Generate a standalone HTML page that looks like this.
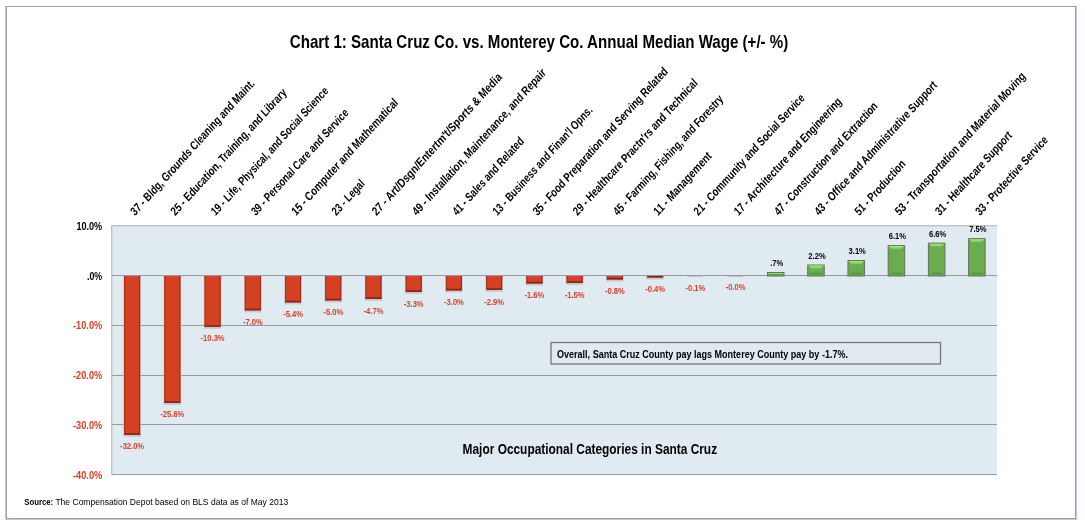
<!DOCTYPE html><html><head><meta charset="utf-8"><style>html,body{margin:0;padding:0;background:#fff;width:1085px;height:525px;overflow:hidden}svg{display:block;will-change:transform}text{font-family:"Liberation Sans",sans-serif}</style></head><body>
<svg width="1085" height="525" viewBox="0 0 1085 525">
<defs><linearGradient id="gtop" x1="0" y1="0" x2="0" y2="1"><stop offset="0" stop-color="#9cf27c"/><stop offset="1" stop-color="#78c25a"/></linearGradient></defs>
<rect x="0" y="0" width="1085" height="525" fill="#fff"/>
<rect x="6.5" y="6.5" width="1069" height="512" fill="none" stroke="#a0a0a0" stroke-width="1"/>
<rect x="5" y="6" width="1" height="513" fill="#b9c8f2"/>
<rect x="1076" y="6" width="1" height="514" fill="#b9c8f2"/>
<rect x="5" y="519" width="1072" height="1" fill="#b9c8f2"/>
<text x="289.8" y="48" font-size="18.5" font-weight="bold" fill="#000" textLength="498.5" lengthAdjust="spacingAndGlyphs">Chart 1: Santa Cruz Co. vs. Monterey Co. Annual Median Wage (+/- %)</text>
<rect x="111" y="225" width="886" height="249" fill="#e0ebf1"/>
<rect x="111" y="225" width="886" height="1" fill="#bfc4c7"/>
<rect x="112" y="226" width="885" height="1" fill="#d2dbe0"/>
<rect x="111" y="225" width="1" height="250" fill="#bfc4c7"/>
<rect x="112" y="226" width="1" height="248" fill="#d2dbe0"/>
<rect x="112" y="275" width="885" height="1" fill="#959b9f"/>
<rect x="112" y="325" width="885" height="1" fill="#959b9f"/>
<rect x="112" y="375" width="885" height="1" fill="#959b9f"/>
<rect x="112" y="424" width="885" height="1" fill="#959b9f"/>
<rect x="112" y="474" width="885" height="1" fill="#959b9f"/>
<text x="76.4" y="230.3" font-size="11.3" font-weight="bold" fill="#000" textLength="25.8" lengthAdjust="spacingAndGlyphs">10.0%</text>
<text x="87.0" y="280.4" font-size="11.3" font-weight="bold" fill="#000" textLength="15.2" lengthAdjust="spacingAndGlyphs">.0%</text>
<text x="73.0" y="329.4" font-size="11.3" font-weight="bold" fill="#d8402a" textLength="29.2" lengthAdjust="spacingAndGlyphs">-10.0%</text>
<text x="73.0" y="379.4" font-size="11.3" font-weight="bold" fill="#d8402a" textLength="29.2" lengthAdjust="spacingAndGlyphs">-20.0%</text>
<text x="73.0" y="428.9" font-size="11.3" font-weight="bold" fill="#d8402a" textLength="29.2" lengthAdjust="spacingAndGlyphs">-30.0%</text>
<text x="73.0" y="478.9" font-size="11.3" font-weight="bold" fill="#d8402a" textLength="29.2" lengthAdjust="spacingAndGlyphs">-40.0%</text>
<rect x="123.31" y="276.00" width="17.6" height="160.86" fill="#c3cbd0"/>
<rect x="124.11" y="276.00" width="16.0" height="158.86" fill="#d44022"/>
<rect x="124.11" y="276.00" width="16.0" height="1.8" fill="#da3f34"/>
<rect x="124.11" y="433.26" width="16.0" height="1.6" fill="#83241a"/>
<rect x="124.11" y="276.00" width="1" height="158.86" fill="#b02c14"/>
<rect x="139.11" y="276.00" width="1" height="158.86" fill="#a22410"/>
<text x="120.12" y="448.86" font-size="8.7" font-weight="bold" fill="#d8402a" textLength="24.0" lengthAdjust="spacingAndGlyphs">-32.0%</text>
<text transform="translate(135.11,216.3) scale(0.91,1) rotate(-45)" font-size="12.5" font-weight="bold" fill="#000" textLength="186.8" lengthAdjust="spacingAndGlyphs">37 - Bldg, Grounds Cleaning and Maint.</text>
<rect x="163.54" y="276.00" width="17.6" height="128.99" fill="#c3cbd0"/>
<rect x="164.34" y="276.00" width="16.0" height="126.99" fill="#d44022"/>
<rect x="164.34" y="276.00" width="16.0" height="1.8" fill="#da3f34"/>
<rect x="164.34" y="401.39" width="16.0" height="1.6" fill="#83241a"/>
<rect x="164.34" y="276.00" width="1" height="126.99" fill="#b02c14"/>
<rect x="179.34" y="276.00" width="1" height="126.99" fill="#a22410"/>
<text x="160.35" y="417.13" font-size="8.7" font-weight="bold" fill="#d8402a" textLength="24.0" lengthAdjust="spacingAndGlyphs">-25.6%</text>
<text transform="translate(175.34,216.3) scale(0.91,1) rotate(-45)" font-size="12.5" font-weight="bold" fill="#000" textLength="174.1" lengthAdjust="spacingAndGlyphs">25 - Education, Training, and Library</text>
<rect x="203.77" y="276.00" width="17.6" height="52.79" fill="#c3cbd0"/>
<rect x="204.57" y="276.00" width="16.0" height="50.79" fill="#d44022"/>
<rect x="204.57" y="276.00" width="16.0" height="1.8" fill="#da3f34"/>
<rect x="204.57" y="325.19" width="16.0" height="1.6" fill="#83241a"/>
<rect x="204.57" y="276.00" width="1" height="50.79" fill="#b02c14"/>
<rect x="219.57" y="276.00" width="1" height="50.79" fill="#a22410"/>
<text x="200.58" y="341.27" font-size="8.7" font-weight="bold" fill="#d8402a" textLength="24.0" lengthAdjust="spacingAndGlyphs">-10.3%</text>
<text transform="translate(215.57,216.3) scale(0.91,1) rotate(-45)" font-size="12.5" font-weight="bold" fill="#000" textLength="176.2" lengthAdjust="spacingAndGlyphs">19 - Life, Physical, and Social Science</text>
<rect x="244.00" y="276.00" width="17.6" height="36.36" fill="#c3cbd0"/>
<rect x="244.80" y="276.00" width="16.0" height="34.36" fill="#d44022"/>
<rect x="244.80" y="276.00" width="16.0" height="1.8" fill="#da3f34"/>
<rect x="244.80" y="308.76" width="16.0" height="1.6" fill="#83241a"/>
<rect x="244.80" y="276.00" width="1" height="34.36" fill="#b02c14"/>
<rect x="259.80" y="276.00" width="1" height="34.36" fill="#a22410"/>
<text x="242.91" y="324.91" font-size="8.7" font-weight="bold" fill="#d8402a" textLength="19.8" lengthAdjust="spacingAndGlyphs">-7.0%</text>
<text transform="translate(255.80,216.3) scale(0.91,1) rotate(-45)" font-size="12.5" font-weight="bold" fill="#000" textLength="145.2" lengthAdjust="spacingAndGlyphs">39 - Personal Care and Service</text>
<rect x="284.22" y="276.00" width="17.6" height="28.39" fill="#c3cbd0"/>
<rect x="285.02" y="276.00" width="16.0" height="26.39" fill="#d44022"/>
<rect x="285.02" y="276.00" width="16.0" height="1.8" fill="#da3f34"/>
<rect x="285.02" y="300.79" width="16.0" height="1.6" fill="#83241a"/>
<rect x="285.02" y="276.00" width="1" height="26.39" fill="#b02c14"/>
<rect x="300.02" y="276.00" width="1" height="26.39" fill="#a22410"/>
<text x="283.14" y="316.97" font-size="8.7" font-weight="bold" fill="#d8402a" textLength="19.8" lengthAdjust="spacingAndGlyphs">-5.4%</text>
<text transform="translate(296.02,216.3) scale(0.91,1) rotate(-45)" font-size="12.5" font-weight="bold" fill="#000" textLength="159.6" lengthAdjust="spacingAndGlyphs">15 - Computer and Mathematical</text>
<rect x="324.45" y="276.00" width="17.6" height="26.40" fill="#c3cbd0"/>
<rect x="325.25" y="276.00" width="16.0" height="24.40" fill="#d44022"/>
<rect x="325.25" y="276.00" width="16.0" height="1.8" fill="#da3f34"/>
<rect x="325.25" y="298.80" width="16.0" height="1.6" fill="#83241a"/>
<rect x="325.25" y="276.00" width="1" height="24.40" fill="#b02c14"/>
<rect x="340.25" y="276.00" width="1" height="24.40" fill="#a22410"/>
<text x="323.36" y="314.99" font-size="8.7" font-weight="bold" fill="#d8402a" textLength="19.8" lengthAdjust="spacingAndGlyphs">-5.0%</text>
<text transform="translate(336.25,216.3) scale(0.91,1) rotate(-45)" font-size="12.5" font-weight="bold" fill="#000" textLength="45.1" lengthAdjust="spacingAndGlyphs">23 - Legal</text>
<rect x="364.68" y="276.00" width="17.6" height="24.91" fill="#c3cbd0"/>
<rect x="365.48" y="276.00" width="16.0" height="22.91" fill="#d44022"/>
<rect x="365.48" y="276.00" width="16.0" height="1.8" fill="#da3f34"/>
<rect x="365.48" y="297.31" width="16.0" height="1.6" fill="#83241a"/>
<rect x="365.48" y="276.00" width="1" height="22.91" fill="#b02c14"/>
<rect x="380.48" y="276.00" width="1" height="22.91" fill="#a22410"/>
<text x="363.59" y="313.50" font-size="8.7" font-weight="bold" fill="#d8402a" textLength="19.8" lengthAdjust="spacingAndGlyphs">-4.7%</text>
<text transform="translate(376.48,216.3) scale(0.91,1) rotate(-45)" font-size="12.5" font-weight="bold" fill="#000" textLength="195.8" lengthAdjust="spacingAndGlyphs">27 - Art/Dsgn/Entertm't/Sports &amp; Media</text>
<rect x="404.90" y="276.00" width="17.6" height="17.93" fill="#c3cbd0"/>
<rect x="405.70" y="276.00" width="16.0" height="15.93" fill="#d44022"/>
<rect x="405.70" y="276.00" width="16.0" height="1.8" fill="#da3f34"/>
<rect x="405.70" y="290.33" width="16.0" height="1.6" fill="#83241a"/>
<rect x="405.70" y="276.00" width="1" height="15.93" fill="#b02c14"/>
<rect x="420.70" y="276.00" width="1" height="15.93" fill="#a22410"/>
<text x="403.82" y="306.56" font-size="8.7" font-weight="bold" fill="#d8402a" textLength="19.8" lengthAdjust="spacingAndGlyphs">-3.3%</text>
<text transform="translate(416.70,216.3) scale(0.91,1) rotate(-45)" font-size="12.5" font-weight="bold" fill="#000" textLength="202.0" lengthAdjust="spacingAndGlyphs">49 - Installation, Maintenance, and Repair</text>
<rect x="445.13" y="276.00" width="17.6" height="16.44" fill="#c3cbd0"/>
<rect x="445.93" y="276.00" width="16.0" height="14.44" fill="#d44022"/>
<rect x="445.93" y="276.00" width="16.0" height="1.8" fill="#da3f34"/>
<rect x="445.93" y="288.84" width="16.0" height="1.6" fill="#83241a"/>
<rect x="445.93" y="276.00" width="1" height="14.44" fill="#b02c14"/>
<rect x="460.93" y="276.00" width="1" height="14.44" fill="#a22410"/>
<text x="444.05" y="305.07" font-size="8.7" font-weight="bold" fill="#d8402a" textLength="19.8" lengthAdjust="spacingAndGlyphs">-3.0%</text>
<text transform="translate(456.93,216.3) scale(0.91,1) rotate(-45)" font-size="12.5" font-weight="bold" fill="#000" textLength="105.1" lengthAdjust="spacingAndGlyphs">41 - Sales and Related</text>
<rect x="485.36" y="276.00" width="17.6" height="15.94" fill="#c3cbd0"/>
<rect x="486.16" y="276.00" width="16.0" height="13.94" fill="#d44022"/>
<rect x="486.16" y="276.00" width="16.0" height="1.8" fill="#da3f34"/>
<rect x="486.16" y="288.34" width="16.0" height="1.6" fill="#83241a"/>
<rect x="486.16" y="276.00" width="1" height="13.94" fill="#b02c14"/>
<rect x="501.16" y="276.00" width="1" height="13.94" fill="#a22410"/>
<text x="484.27" y="304.58" font-size="8.7" font-weight="bold" fill="#d8402a" textLength="19.8" lengthAdjust="spacingAndGlyphs">-2.9%</text>
<text transform="translate(497.16,216.3) scale(0.91,1) rotate(-45)" font-size="12.5" font-weight="bold" fill="#000" textLength="149.2" lengthAdjust="spacingAndGlyphs">13 - Business and Finan'l Opns.</text>
<rect x="525.59" y="276.00" width="17.6" height="9.47" fill="#c3cbd0"/>
<rect x="526.39" y="276.00" width="16.0" height="7.47" fill="#d44022"/>
<rect x="526.39" y="276.00" width="16.0" height="1.8" fill="#da3f34"/>
<rect x="526.39" y="281.87" width="16.0" height="1.6" fill="#83241a"/>
<rect x="526.39" y="276.00" width="1" height="7.47" fill="#b02c14"/>
<rect x="541.39" y="276.00" width="1" height="7.47" fill="#a22410"/>
<text x="524.50" y="298.13" font-size="8.7" font-weight="bold" fill="#d8402a" textLength="19.8" lengthAdjust="spacingAndGlyphs">-1.6%</text>
<text transform="translate(537.39,216.3) scale(0.91,1) rotate(-45)" font-size="12.5" font-weight="bold" fill="#000" textLength="203.7" lengthAdjust="spacingAndGlyphs">35 - Food Preparation and Serving Related</text>
<rect x="565.81" y="276.00" width="17.6" height="8.97" fill="#c3cbd0"/>
<rect x="566.61" y="276.00" width="16.0" height="6.97" fill="#d44022"/>
<rect x="566.61" y="276.00" width="16.0" height="1.8" fill="#da3f34"/>
<rect x="566.61" y="281.37" width="16.0" height="1.6" fill="#83241a"/>
<rect x="566.61" y="276.00" width="1" height="6.97" fill="#b02c14"/>
<rect x="581.61" y="276.00" width="1" height="6.97" fill="#a22410"/>
<text x="564.73" y="297.64" font-size="8.7" font-weight="bold" fill="#d8402a" textLength="19.8" lengthAdjust="spacingAndGlyphs">-1.5%</text>
<text transform="translate(577.61,216.3) scale(0.91,1) rotate(-45)" font-size="12.5" font-weight="bold" fill="#000" textLength="187.4" lengthAdjust="spacingAndGlyphs">29 - Healthcare Practn'rs and Technical</text>
<rect x="606.04" y="276.00" width="17.6" height="5.48" fill="#c3cbd0"/>
<rect x="606.84" y="276.00" width="16.0" height="3.48" fill="#d44022"/>
<rect x="606.84" y="276.00" width="16.0" height="1.8" fill="#da3f34"/>
<rect x="606.84" y="277.88" width="16.0" height="1.6" fill="#83241a"/>
<rect x="606.84" y="276.00" width="1" height="3.48" fill="#b02c14"/>
<rect x="621.84" y="276.00" width="1" height="3.48" fill="#a22410"/>
<text x="604.96" y="294.17" font-size="8.7" font-weight="bold" fill="#d8402a" textLength="19.8" lengthAdjust="spacingAndGlyphs">-0.8%</text>
<text transform="translate(617.84,216.3) scale(0.91,1) rotate(-45)" font-size="12.5" font-weight="bold" fill="#000" textLength="164.7" lengthAdjust="spacingAndGlyphs">45 - Farming, Fishing, and Forestry</text>
<rect x="646.27" y="276.00" width="17.6" height="3.49" fill="#c3cbd0"/>
<rect x="647.07" y="276.00" width="16.0" height="1.49" fill="#d44022"/>
<rect x="647.07" y="275.89" width="16.0" height="1.6" fill="#83241a"/>
<rect x="647.07" y="276.00" width="1" height="1.49" fill="#b02c14"/>
<rect x="662.07" y="276.00" width="1" height="1.49" fill="#a22410"/>
<text x="645.18" y="292.18" font-size="8.7" font-weight="bold" fill="#d8402a" textLength="19.8" lengthAdjust="spacingAndGlyphs">-0.4%</text>
<text transform="translate(658.07,216.3) scale(0.91,1) rotate(-45)" font-size="12.5" font-weight="bold" fill="#000" textLength="84.2" lengthAdjust="spacingAndGlyphs">11 - Management</text>
<rect x="687.30" y="276.00" width="16.0" height="1" fill="#c4c9cc"/>
<text x="685.41" y="290.70" font-size="8.7" font-weight="bold" fill="#d8402a" textLength="19.8" lengthAdjust="spacingAndGlyphs">-0.1%</text>
<text transform="translate(698.30,216.3) scale(0.91,1) rotate(-45)" font-size="12.5" font-weight="bold" fill="#000" textLength="166.2" lengthAdjust="spacingAndGlyphs">21 - Community and Social Service</text>
<rect x="727.52" y="276.00" width="16.0" height="1" fill="#c4c9cc"/>
<text x="725.64" y="290.20" font-size="8.7" font-weight="bold" fill="#d8402a" textLength="19.8" lengthAdjust="spacingAndGlyphs">-0.0%</text>
<text transform="translate(738.52,216.3) scale(0.91,1) rotate(-45)" font-size="12.5" font-weight="bold" fill="#000" textLength="161.2" lengthAdjust="spacingAndGlyphs">17 - Architecture and Engineering</text>
<rect x="767.50" y="272.51" width="16.5" height="3.49" fill="#6aad4c" stroke="#66705f" stroke-width="1"/>
<polygon points="768.00,273.01 783.50,273.01 782.06,274.46 769.44,274.46" fill="url(#gtop)"/>
<polygon points="768.00,275.50 783.50,275.50 782.06,274.06 769.44,274.06" fill="#5f9c44"/>
<text x="770.23" y="266.31" font-size="8.7" font-weight="bold" fill="#000" textLength="13.0" lengthAdjust="spacingAndGlyphs">.7%</text>
<text transform="translate(778.75,216.3) scale(0.91,1) rotate(-45)" font-size="12.5" font-weight="bold" fill="#000" textLength="154.7" lengthAdjust="spacingAndGlyphs">47 - Construction and Extraction</text>
<rect x="807.73" y="265.04" width="16.5" height="10.96" fill="#6aad4c" stroke="#66705f" stroke-width="1"/>
<polygon points="808.23,265.54 823.73,265.54 820.53,268.74 811.43,268.74" fill="url(#gtop)"/>
<polygon points="808.23,275.50 823.73,275.50 820.53,272.30 811.43,272.30" fill="#5f9c44"/>
<text x="808.35" y="258.84" font-size="8.7" font-weight="bold" fill="#000" textLength="17.3" lengthAdjust="spacingAndGlyphs">2.2%</text>
<text transform="translate(818.98,216.3) scale(0.91,1) rotate(-45)" font-size="12.5" font-weight="bold" fill="#000" textLength="184.4" lengthAdjust="spacingAndGlyphs">43 - Office and Administrative Support</text>
<rect x="847.95" y="260.56" width="16.5" height="15.44" fill="#6aad4c" stroke="#66705f" stroke-width="1"/>
<polygon points="848.45,261.06 863.95,261.06 860.75,264.26 851.65,264.26" fill="url(#gtop)"/>
<polygon points="848.45,275.50 863.95,275.50 860.75,272.30 851.65,272.30" fill="#5f9c44"/>
<text x="848.58" y="254.36" font-size="8.7" font-weight="bold" fill="#000" textLength="17.3" lengthAdjust="spacingAndGlyphs">3.1%</text>
<text transform="translate(859.20,216.3) scale(0.91,1) rotate(-45)" font-size="12.5" font-weight="bold" fill="#000" textLength="72.9" lengthAdjust="spacingAndGlyphs">51 - Production</text>
<rect x="888.18" y="245.62" width="16.5" height="30.38" fill="#6aad4c" stroke="#66705f" stroke-width="1"/>
<polygon points="888.68,246.12 904.18,246.12 900.98,249.32 891.88,249.32" fill="url(#gtop)"/>
<polygon points="888.68,275.50 904.18,275.50 900.98,272.30 891.88,272.30" fill="#5f9c44"/>
<text x="888.81" y="239.42" font-size="8.7" font-weight="bold" fill="#000" textLength="17.3" lengthAdjust="spacingAndGlyphs">6.1%</text>
<text transform="translate(899.43,216.3) scale(0.91,1) rotate(-45)" font-size="12.5" font-weight="bold" fill="#000" textLength="197.0" lengthAdjust="spacingAndGlyphs">53 - Transportation and Material Moving</text>
<rect x="928.41" y="243.13" width="16.5" height="32.87" fill="#6aad4c" stroke="#66705f" stroke-width="1"/>
<polygon points="928.91,243.63 944.41,243.63 941.21,246.83 932.11,246.83" fill="url(#gtop)"/>
<polygon points="928.91,275.50 944.41,275.50 941.21,272.30 932.11,272.30" fill="#5f9c44"/>
<text x="929.03" y="236.93" font-size="8.7" font-weight="bold" fill="#000" textLength="17.3" lengthAdjust="spacingAndGlyphs">6.6%</text>
<text transform="translate(939.66,216.3) scale(0.91,1) rotate(-45)" font-size="12.5" font-weight="bold" fill="#000" textLength="113.4" lengthAdjust="spacingAndGlyphs">31 - Healthcare Support</text>
<rect x="968.64" y="238.65" width="16.5" height="37.35" fill="#6aad4c" stroke="#66705f" stroke-width="1"/>
<polygon points="969.14,239.15 984.64,239.15 981.44,242.35 972.34,242.35" fill="url(#gtop)"/>
<polygon points="969.14,275.50 984.64,275.50 981.44,272.30 972.34,272.30" fill="#5f9c44"/>
<text x="969.26" y="232.45" font-size="8.7" font-weight="bold" fill="#000" textLength="17.3" lengthAdjust="spacingAndGlyphs">7.5%</text>
<text transform="translate(979.89,216.3) scale(0.91,1) rotate(-45)" font-size="12.5" font-weight="bold" fill="#000" textLength="106.8" lengthAdjust="spacingAndGlyphs">33 - Protective Service</text>
<rect x="551" y="342.5" width="389.5" height="21.5" fill="#e0ebf1" stroke="#777" stroke-width="1.3"/>
<text x="557" y="357.7" font-size="10.2" font-weight="bold" fill="#000" textLength="291" lengthAdjust="spacingAndGlyphs">Overall, Santa Cruz County pay lags Monterey County pay by -1.7%.</text>
<text x="462.6" y="454" font-size="14" font-weight="bold" fill="#000" textLength="254.5" lengthAdjust="spacingAndGlyphs">Major Occupational Categories in Santa Cruz</text>
<text x="24.2" y="504.7" font-size="9.6" font-weight="bold" fill="#000" textLength="29" lengthAdjust="spacingAndGlyphs">Source:</text>
<text x="53.2" y="504.7" font-size="9.6" fill="#000" textLength="235" lengthAdjust="spacingAndGlyphs" xml:space="preserve"> The Compensation Depot based on BLS data as of May 2013</text>
</svg></body></html>
